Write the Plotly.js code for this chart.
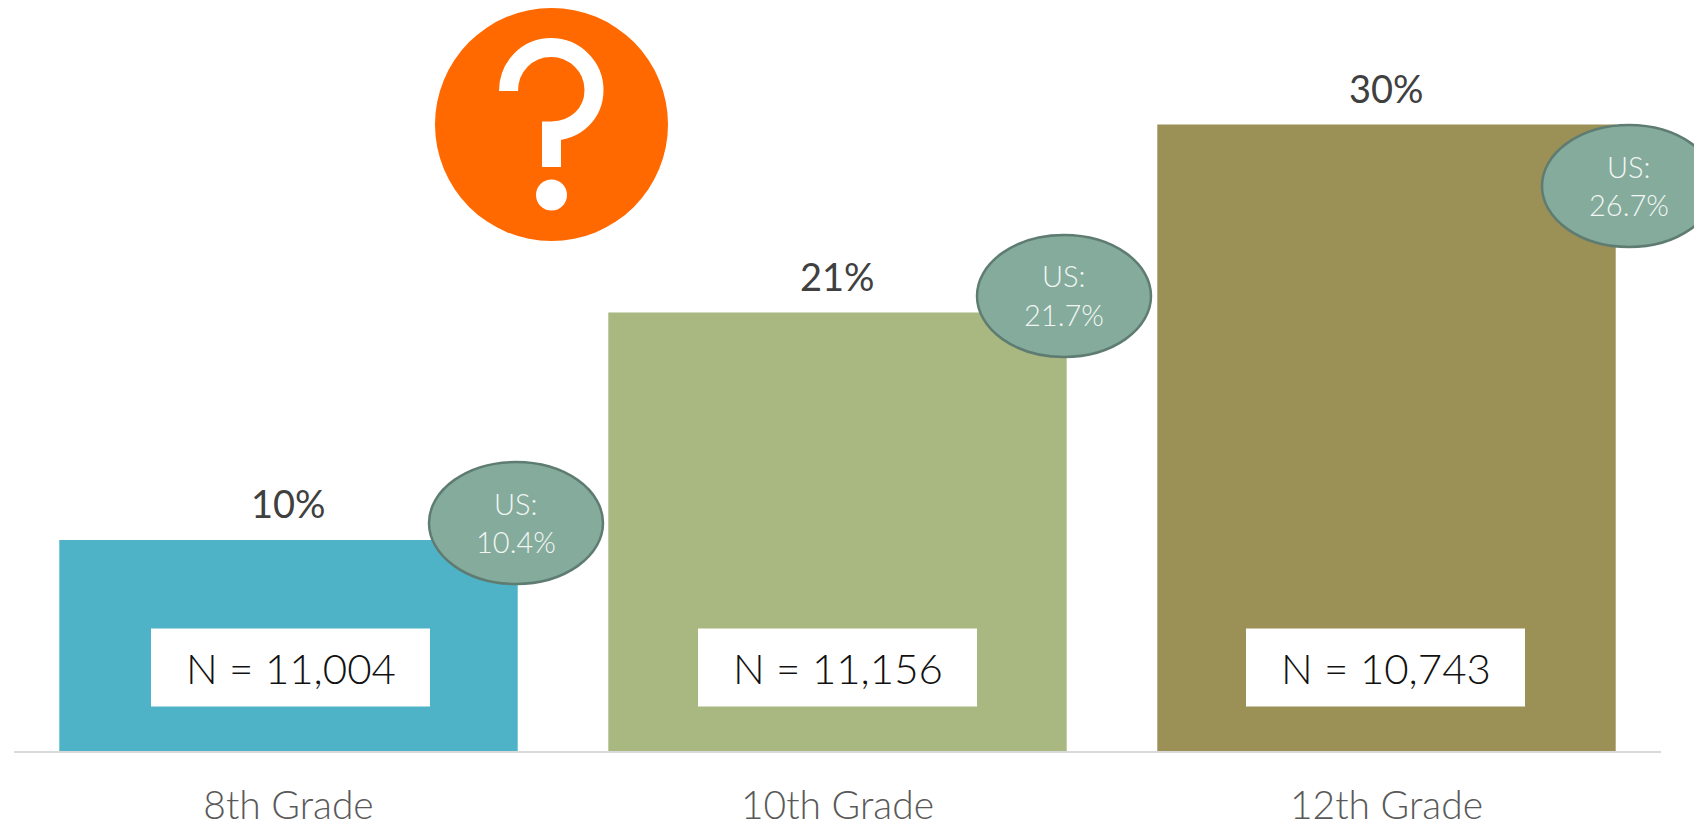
<!DOCTYPE html>
<html><head><meta charset="utf-8">
<script src="https://cdn.plot.ly/plotly-3.0.1.min.js"></script>
<style>html,body{margin:0;padding:0;background:#fff;overflow:hidden}</style>
</head><body><div id="chart" style="width:1694px;height:825px"></div>
<script>
const categories = ['8th Grade','10th Grade','12th Grade'];
const values = [10.1,21,30];
const valueLabels = ['10%','21%','30%'];
const sampleLabels = ['N = 11,004','N = 11,156','N = 10,743'];
const usValues = ['10.4%','21.7%','26.7%'];
const barColors = ['#4FB3C8','#A8B880','#9B9055'];

const W=1694,H=825,ML=14,MR=33,MT=0,MB=74;
const FONT='Lato, sans-serif';
const PW=W-ML-MR,PH=H-MT-MB;
const fx=x=>(x-ML)/PW, fy=y=>1-(y-MT)/PH; // page pixel -> plot paper
const usCenters=[[516,523],[1064,296],[1629,186]];
const boxCenters=[290.5,837.5,1385.5];
const shapes=[],annotations=[];
const note=(x,y,text,size,color,weight)=>({xref:'paper',yref:'paper',x:fx(x),y:fy(y),xanchor:'center',yanchor:'middle',text,showarrow:false,font:{family:FONT,size,color,weight}});
categories.forEach((c,i)=>{
  const bx=boxCenters[i];
  shapes.push({type:'rect',xref:'paper',yref:'paper',x0:fx(bx-139.5),x1:fx(bx+139.5),y0:fy(706.5),y1:fy(628.5),fillcolor:'#fff',line:{width:0}});
  const [ex,ey]=usCenters[i];
  shapes.push({type:'circle',xref:'paper',yref:'paper',x0:fx(ex-87),x1:fx(ex+87),y0:fy(ey-61),y1:fy(ey+61),fillcolor:'#84AB9B',line:{color:'#5F7C72',width:2.5}});
  annotations.push(note(bx,668,sampleLabels[i],42,'#111',300));
  annotations.push({xref:'x',yref:'y',x:i,y:values[i],xanchor:'center',yanchor:'bottom',yshift:12,text:valueLabels[i],showarrow:false,font:{family:FONT,size:38,color:'#404040'}});
  annotations.push(note(ex,ey-20,'US:',29,'#F2F6F4',300));
  annotations.push(note(ex,ey+18.5,usValues[i],29,'#F2F6F4',300));
});
// question badge
shapes.push({type:'circle',xref:'paper',yref:'paper',x0:fx(435),x1:fx(668),y0:fy(241),y1:fy(8),fillcolor:'#FF6900',line:{width:0}});
const P=(x,y)=>fx(x)+' '+fy(y);
shapes.push({type:'path',xref:'paper',yref:'paper',
  path:`M ${P(508.5,91)} C ${P(508.5,67)} ${P(527,47.5)} ${P(551,47.5)} C ${P(575,47.5)} ${P(594,67)} ${P(594,90)} C ${P(594,114)} ${P(575,131)} ${P(551.5,131)} L ${P(551.5,167)}`,
  fillcolor:'rgba(0,0,0,0)',line:{color:'#fff',width:19}});
shapes.push({type:'circle',xref:'paper',yref:'paper',x0:fx(536),x1:fx(567),y0:fy(210.5),y1:fy(179.5),fillcolor:'#fff',line:{width:0}});

Plotly.newPlot('chart',[{type:'bar',x:categories,y:values,marker:{color:barColors,line:{width:0}},hoverinfo:'x+y'}],{
  width:W,height:H,autosize:false,
  margin:{l:ML,r:MR,t:MT,b:MB,pad:0},
  paper_bgcolor:'#fff',plot_bgcolor:'#fff',
  showlegend:false,bargap:0.165,
  xaxis:{type:'category',showgrid:false,zeroline:false,showline:true,linecolor:'#D9D9D9',linewidth:2,ticks:'',ticklabelstandoff:19,
    tickfont:{family:FONT,size:39,color:'#595959',weight:300}},
  yaxis:{range:[0,751/20.88],showgrid:false,zeroline:false,showline:false,showticklabels:false,ticks:''},
  shapes,annotations
},{displayModeBar:false,staticPlot:true});
</script></body></html>
